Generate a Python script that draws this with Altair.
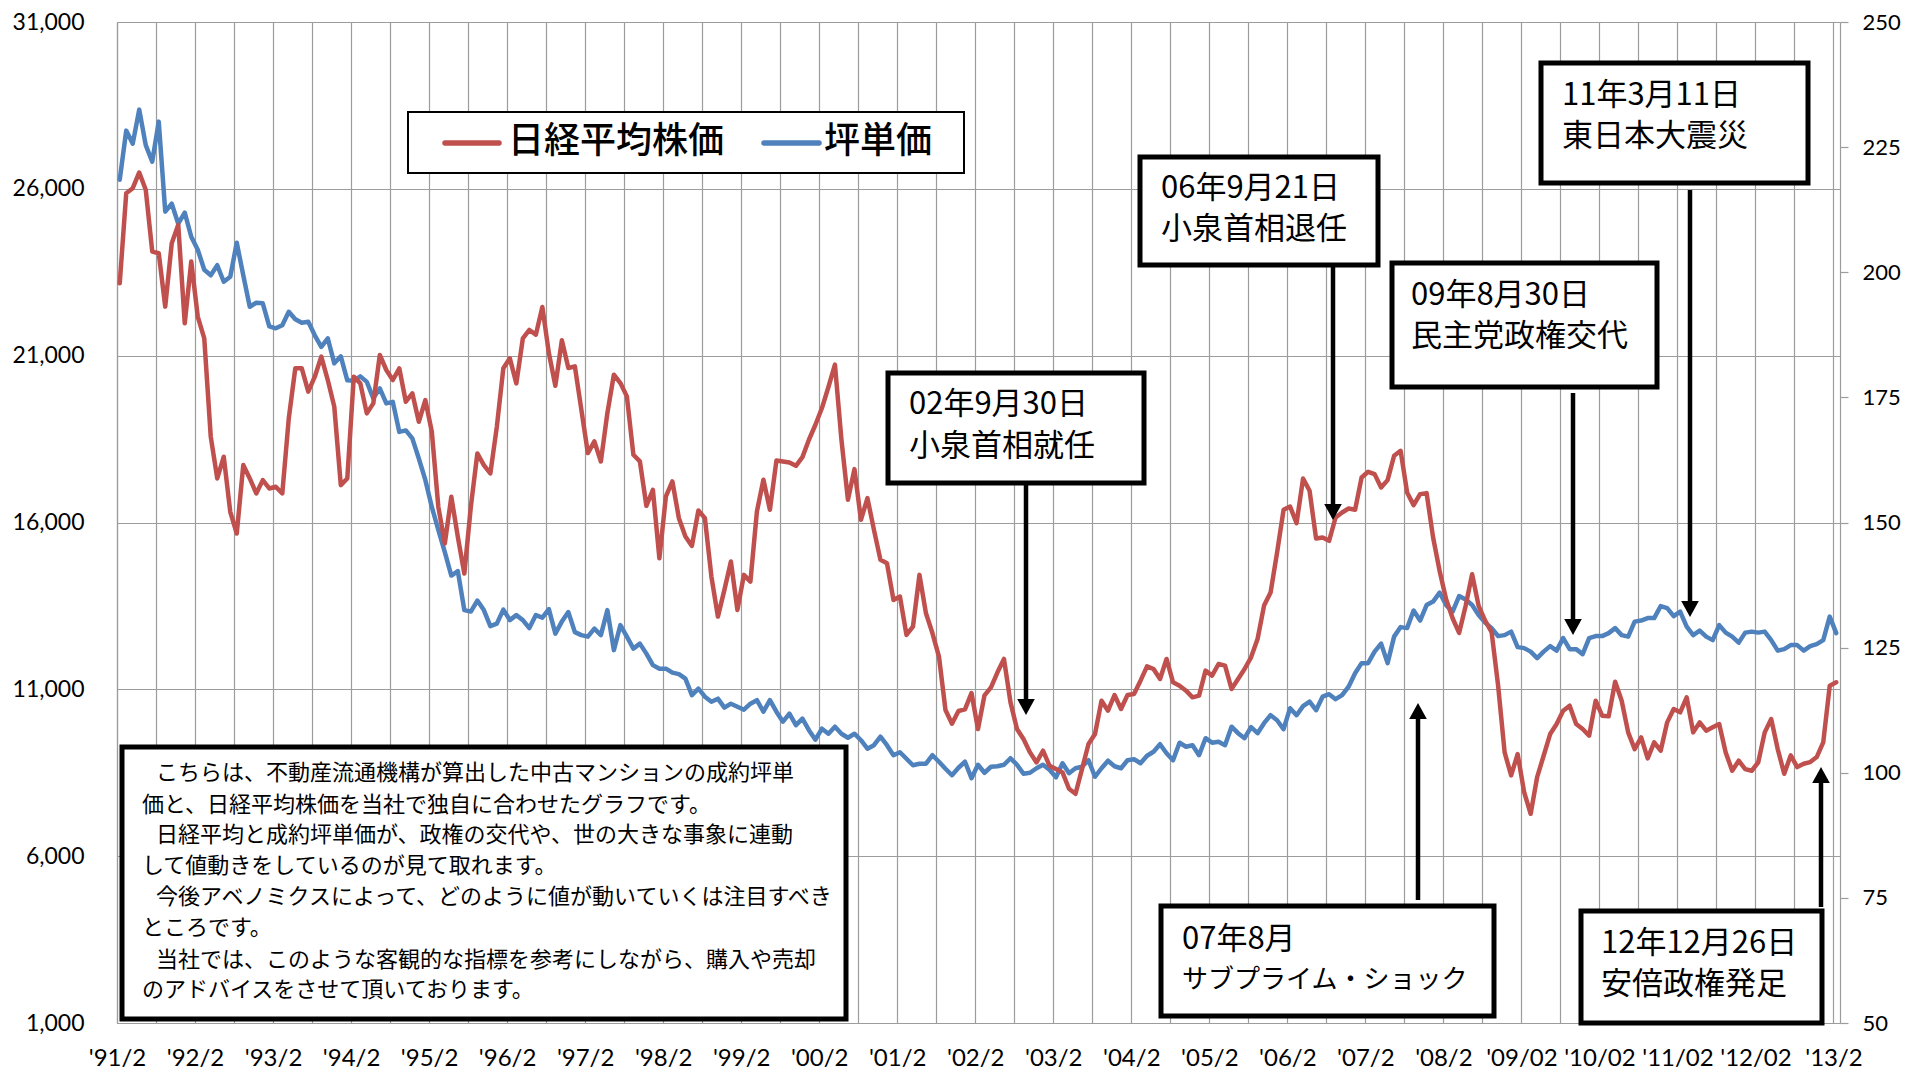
import json
import altair as alt
import pandas as pd

# ---------------- data ----------------
# monthly, from 1991/2 to 2013/2
nikkei = [
    23170, 25870, 26020, 26490, 25970, 24120, 24070, 22470, 24370, 24920, 21970, 23820,
    22170, 21520, 18570, 17320, 17970, 16320, 15670, 17720, 17320, 16870, 17270, 17020,
    17070, 16870, 19120, 20620, 20620, 19920, 20370, 20970, 20270, 19470, 17120, 17320,
    20370, 20170, 19270, 19570, 21020, 20570, 20270, 20620, 19620, 19870, 19020, 19670,
    18720, 16470, 15370, 16770, 15570, 14470, 16470, 18070, 17720, 17470, 18870, 20620,
    20920, 20170, 21520, 21770, 21630, 22460, 21080, 20100, 21460, 20630, 20680, 19380,
    18080, 18430, 17830, 19280, 20430, 20180, 19780, 18030, 17830, 16500, 16980, 14930,
    16780, 17230, 16130, 15580, 15300, 16360, 16130, 14380, 13180, 13980, 14830, 13380,
    14430, 14230, 16330, 17280, 16380, 17860, 17830, 17800, 17700, 17960, 18480, 18930,
    19430, 20060, 20730, 18480, 16680, 17600, 16080, 16730, 15780, 14880, 14780, 13680,
    13780, 12630, 12880, 14430, 13280, 12680, 11980, 10380, 9970, 10350, 10400, 10890,
    9810, 10820, 11060, 11510, 11910, 10610, 9810, 9510, 9110, 8810, 9160, 8710,
    8610, 8510, 8020, 7870, 8610, 9360, 9660, 10660, 10360, 10830, 10410, 10830,
    10860, 11260, 11690, 11610, 11310, 11910, 11210, 11110, 10960, 10760, 10810, 11560,
    11410, 11760, 11710, 11010, 11310, 11610, 11960, 12510, 13510, 13900, 15100, 16380,
    16480, 15980, 17320, 16950, 15520, 15550, 15450, 16150, 16300, 16420, 16380, 17350,
    17520, 17450, 17050, 17270, 18000, 18150, 16900, 16520, 16850, 16880, 15550, 14550,
    13700, 13130, 12690, 13500, 14450, 13500, 13060, 12710, 11110, 9110, 8420, 9060,
    7920, 7270, 8370, 9010, 9660, 9960, 10360, 10510, 9960, 9810, 9610, 10660,
    10210, 10190, 11230, 10660, 9710, 9210, 9560, 8930, 9410, 9160, 10010, 10410,
    10310, 10760, 9710, 10010, 9760, 9860, 9960, 9110, 8560, 8860, 8610, 8560,
    8810, 9710, 10110, 9210, 8470, 9020, 8670, 8770, 8820, 8970, 9410, 11110,
    11210,
]
tsubo = [
    218.5, 228.3, 225.7, 232.5, 225.4, 222.1, 230.1, 212.1, 213.7, 209.7, 211.9, 207.1,
    204.5, 200.5, 199.4, 201.4, 198.1, 199.1, 205.9, 199.4, 193.1, 193.9, 193.8, 189.2,
    188.8, 189.4, 192.1, 190.6, 189.9, 190.1, 187.4, 185.1, 186.8, 181.8, 183.2, 178.4,
    178.3, 179.2, 178.1, 174.8, 176.8, 173.8, 174.1, 168.1, 168.4, 166.8, 162.8, 158.5,
    153.1, 148.5, 144.1, 139.4, 140.3, 132.5, 132.2, 134.4, 132.5, 129.3, 129.8, 132.6,
    130.5, 131.5, 130.5, 128.9, 131.5, 131.0, 132.7, 127.8, 130.2, 132.1, 128.1, 127.5,
    127.2, 128.8, 127.5, 132.5, 124.5, 129.5, 127.2, 124.8, 125.8, 123.8, 121.5, 120.8,
    120.8, 120.0, 119.7, 118.8, 115.5, 116.8, 115.2, 114.2, 114.8, 113.0, 113.8, 113.2,
    112.6, 113.8, 114.5, 112.2, 114.5, 112.2, 110.2, 111.8, 109.5, 110.8, 108.5, 106.6,
    108.8, 107.8, 109.2, 107.8, 107.0, 107.8, 106.5, 104.8, 105.5, 107.2, 105.5, 103.5,
    104.1, 102.8, 101.5, 101.8, 101.8, 103.5, 102.2, 100.8, 99.5, 101.0, 102.2, 98.9,
    101.6, 100.0, 101.2, 101.3, 101.6, 102.9, 101.6, 99.8, 100.0, 100.9, 101.6, 100.6,
    99.1, 101.9, 99.9, 100.9, 101.2, 102.5, 99.2, 100.9, 102.4, 101.3, 100.9, 102.5,
    102.7, 101.9, 103.4, 104.2, 105.7, 103.9, 102.5, 106.0, 105.2, 105.5, 103.5, 106.9,
    106.0, 106.2, 105.5, 109.2, 107.9, 106.9, 109.1, 107.9, 109.9, 111.5, 110.5, 108.7,
    112.9, 111.5, 113.3, 114.2, 112.5, 115.2, 115.7, 114.7, 115.5, 117.2, 119.9, 121.9,
    121.9, 124.2, 125.8, 121.9, 127.2, 129.1, 128.9, 132.4, 130.4, 133.5, 134.2, 136.0,
    133.5, 132.2, 135.3, 134.6, 133.5, 131.5, 130.0, 128.9, 127.3, 127.5, 128.2, 125.1,
    124.9, 124.2, 122.9, 124.2, 125.3, 124.4, 126.9, 124.7, 124.7, 123.7, 126.9, 127.3,
    127.3, 127.9, 128.9, 127.5, 127.2, 130.2, 130.4, 130.9, 130.9, 133.3, 132.9, 131.3,
    132.2, 129.2, 127.5, 128.4, 127.2, 126.5, 129.5, 128.0, 127.2, 126.0, 128.0, 128.2,
    128.0, 128.2, 126.5, 124.4, 124.7, 125.5, 125.5, 124.4, 125.3, 125.7, 126.5, 131.2,
    127.9,
]
year_labels = ["'91/2", "'92/2", "'93/2", "'94/2", "'95/2", "'96/2", "'97/2", "'98/2",
               "'99/2", "'00/2", "'01/2", "'02/2", "'03/2", "'04/2", "'05/2", "'06/2",
               "'07/2", "'08/2", "'09/02", "'10/02", "'11/02", "'12/02", "'13/2"]
left_ticks = [1000, 6000, 11000, 16000, 21000, 26000, 31000]
right_ticks = [50, 75, 100, 125, 150, 175, 200, 225, 250]
series_names = ["日経平均株価", "坪単価"]

event_titles = ["02年9月30日", "06年9月21日", "09年8月30日", "11年3月11日", "07年8月", "12年12月26日"]
event_names = ["小泉首相就任", "小泉首相退任", "民主党政権交代", "東日本大震災", "サブプライム・ショック", "安倍政権発足"]

note_lines = [
    "こちらは、不動産流通機構が算出した中古マンションの成約坪単",
    "価と、日経平均株価を当社で独自に合わせたグラフです。",
    "日経平均と成約坪単価が、政権の交代や、世の大きな事象に連動",
    "して値動きをしているのが見て取れます。",
    "今後アベノミクスによって、どのように値が動いていくは注目すべき",
    "ところです。",
    "当社では、このような客観的な指標を参考にしながら、購入や売却",
    "のアドバイスをさせて頂いております。",
]

# ---------------- layout / style ----------------
RED = "#C0504D"
BLUE = "#4F81BD"
GRID = "#9C9C9C"
AXFONT = "Lato"
AXSIZE = 24
LSIZE = 23
RSIZE = 22
JFONT = "Noto Sans CJK JP"
W, H = 1723, 1001
OFF = 0.42  # points sit a little right of the category gridlines

# event boxes: (left, top, right, bottom), text x, line1 y, line2 y, line2 size,
# arrow x, arrow start y, arrow tip y
event_layout = [
    ((771, 351, 1027, 461), 792, 383, 425, 31, 909, 461, 693),
    ((1023, 135, 1261, 243), 1044, 167, 208, 31, 1216, 243, 498),
    ((1275, 241, 1540, 365), 1294, 274, 315, 31, 1456, 371, 613),
    ((1424, 41, 1691, 161), 1445, 74, 115, 31, 1573, 168, 595),
    ((1044, 884, 1377, 994), 1065, 918, 958, 26, 1301, 878, 681),
    ((1464, 889, 1705, 1001), 1484, 922, 963, 31, 1704, 885, 745),
]
note_box = (5, 725, 729, 997)
note_y = [751, 783, 813, 844, 875, 906, 938, 968]
note_x = [39, 25, 39, 25, 39, 25, 39, 25]
legend_box = (291, 90, 847, 151)
legend_lines = [(328, 382, 121), (647, 702, 121)]
legend_text_x = [391, 707]
legend_text_y = 120

# ---------------- chart ----------------
n = len(nikkei)
df = pd.DataFrame({"m": list(range(n)), "nikkei": nikkei, "tsubo": tsubo})

grid_vals = [6 * k - OFF for k in range(2 * (len(year_labels) - 1) + 1)]
slots = []
for lab in year_labels:
    slots += [lab, ""]
slots = slots[:-1]
label_expr = f"{json.dumps(slots, ensure_ascii=False)}[round((datum.value + {OFF}) / 6)]"

x_enc = alt.X(
    "m:Q",
    scale=alt.Scale(domain=[-OFF, n - OFF], nice=False, zero=False),
    axis=alt.Axis(values=grid_vals, labelExpr=label_expr, grid=True, gridColor=GRID,
                  gridWidth=1.2, domainColor=GRID, domainWidth=1.2, ticks=False, tickSize=0,
                  labelPadding=23, labelFont=AXFONT, labelFontSize=AXSIZE, labelColor="black",
                  labelOverlap=False, labelFlush=False, title=None),
)

blue = alt.Chart(df).mark_line(color=BLUE, strokeWidth=4.5, strokeJoin="round", strokeCap="round").encode(
    x=x_enc,
    y=alt.Y("tsubo:Q", scale=alt.Scale(domain=[50, 250], nice=False, zero=False),
            axis=alt.Axis(orient="right", values=right_ticks, format="d", grid=False, ticks=True,
                          tickSize=8, tickColor=GRID, tickWidth=1.2, domainColor=GRID,
                          domainWidth=1.2, labelPadding=14, labelFont=AXFONT, labelFontSize=RSIZE,
                          labelColor="black", labelOverlap=False, labelFlush=False, title=None)),
)
red = alt.Chart(df).mark_line(color=RED, strokeWidth=4.5, strokeJoin="round", strokeCap="round").encode(
    x=x_enc,
    y=alt.Y("nikkei:Q", scale=alt.Scale(domain=[1000, 31000], nice=False, zero=False),
            axis=alt.Axis(orient="left", values=left_ticks, format=",d", grid=True, gridColor=GRID,
                          gridWidth=1.2, ticks=False, tickSize=0, domainColor=GRID, domainWidth=1.2,
                          labelPadding=33, labelFont=AXFONT, labelFontSize=LSIZE, labelColor="black",
                          labelOverlap=False, labelFlush=False, title=None)),
)

# annotation tables (pixel layout)
box_rows = [dict(x=legend_box[0], x2=legend_box[2], y=legend_box[1], y2=legend_box[3], sw=2)]
for (b, *_rest) in event_layout:
    box_rows.append(dict(x=b[0], x2=b[2], y=b[1], y2=b[3], sw=5))
box_rows.append(dict(x=note_box[0], x2=note_box[2], y=note_box[1], y2=note_box[3], sw=5))
boxes = alt.Chart(pd.DataFrame(box_rows)).mark_rect(fill="white", stroke="black").encode(
    x=alt.X("x:Q", scale=None, axis=None), x2="x2:Q",
    y=alt.Y("y:Q", scale=None, axis=None), y2="y2:Q",
    strokeWidth=alt.StrokeWidth("sw:Q", scale=None, legend=None),
)

HEAD = 8
rule_rows, down_rows, up_rows = [], [], []
for (_b, _tx, _y1, _y2, _s, ax, ay0, tip) in event_layout:
    if tip > ay0:
        rule_rows.append(dict(x=ax, y=ay0, y2=tip - 2 * HEAD + 2))
        down_rows.append(dict(x=ax, y=tip - HEAD))
    else:
        rule_rows.append(dict(x=ax, y=ay0, y2=tip + 2 * HEAD - 2))
        up_rows.append(dict(x=ax, y=tip + HEAD))
rules = alt.Chart(pd.DataFrame(rule_rows)).mark_rule(color="black", strokeWidth=4.5).encode(
    x=alt.X("x:Q", scale=None, axis=None),
    y=alt.Y("y:Q", scale=None, axis=None), y2="y2:Q",
)
heads_down = alt.Chart(pd.DataFrame(down_rows)).mark_point(
    filled=True, color="black", opacity=1, size=(2 * HEAD) ** 2, shape="M-1.1,-1L1.1,-1L0,1Z"
).encode(x=alt.X("x:Q", scale=None, axis=None), y=alt.Y("y:Q", scale=None, axis=None))
heads_up = alt.Chart(pd.DataFrame(up_rows)).mark_point(
    filled=True, color="black", opacity=1, size=(2 * HEAD) ** 2, shape="M-1.1,1L1.1,1L0,-1Z"
).encode(x=alt.X("x:Q", scale=None, axis=None), y=alt.Y("y:Q", scale=None, axis=None))

text_rows = []
for i, (_b, tx, y1, y2, s2, *_r) in enumerate(event_layout):
    text_rows.append(dict(x=tx, y=y1, t=event_titles[i], s=31))
    text_rows.append(dict(x=tx, y=y2, t=event_names[i], s=s2))
for i, line in enumerate(note_lines):
    text_rows.append(dict(x=note_x[i], y=note_y[i], t=line, s=22))
texts = alt.Chart(pd.DataFrame(text_rows)).mark_text(
    align="left", baseline="middle", font=JFONT, color="black"
).encode(
    x=alt.X("x:Q", scale=None, axis=None), y=alt.Y("y:Q", scale=None, axis=None),
    text="t:N", size=alt.Size("s:Q", scale=None, legend=None),
)

leg_rule_rows = [dict(x=legend_lines[i][0], x2=legend_lines[i][1], y=legend_lines[i][2],
                      c=[RED, BLUE][i]) for i in range(2)]
leg_rules = alt.Chart(pd.DataFrame(leg_rule_rows)).mark_rule(strokeWidth=5.5, strokeCap="round").encode(
    x=alt.X("x:Q", scale=None, axis=None), x2="x2:Q",
    y=alt.Y("y:Q", scale=None, axis=None),
    color=alt.Color("c:N", scale=None, legend=None),
)
leg_text = alt.Chart(pd.DataFrame([dict(x=legend_text_x[i], y=legend_text_y, t=series_names[i])
                                   for i in range(2)])).mark_text(
    align="left", baseline="middle", font=JFONT, fontSize=36, fontWeight=500, color="black"
).encode(x=alt.X("x:Q", scale=None, axis=None), y=alt.Y("y:Q", scale=None, axis=None), text="t:N")

chart = alt.layer(
    blue, red, boxes, rules, heads_down, heads_up, texts, leg_rules, leg_text
).resolve_scale(y="independent").properties(
    width=W, height=H,
    padding={"left": 109, "top": 14, "right": 61, "bottom": 49},
    autosize=alt.AutoSizeParams(type="none"),
    background="white",
).configure_view(stroke=None)

chart.save("out.html", embed_options={"renderer": "svg", "actions": False})
